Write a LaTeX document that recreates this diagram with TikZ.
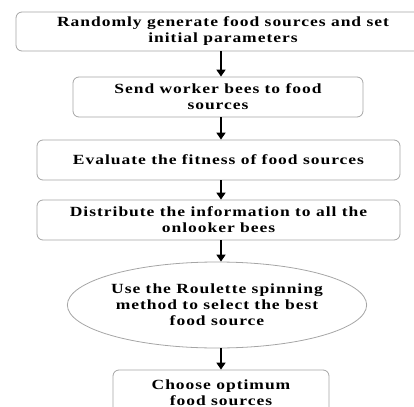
\documentclass[tikz,border=0pt]{standalone}
\usepackage{fontspec}
\setmainfont{Liberation Serif}[FakeStretch=1.25,LetterSpace=7]
\usetikzlibrary{shapes.geometric,arrows.meta}
\definecolor{edge}{RGB}{165,165,165}
\begin{document}
\begin{tikzpicture}[x=1pt,y=-1pt,
  box/.style={draw=edge,line width=0.8pt,rounded corners=6pt,align=center,
    font=\fontsize{14}{16}\selectfont\bfseries,inner sep=0pt},
  oval/.style={draw=edge,line width=0.8pt,ellipse,align=center,
    font=\fontsize{14}{16}\selectfont\bfseries,inner sep=0pt},
  arr/.style={line width=1.6pt,-{Triangle[length=7pt,width=9pt]}}]
\useasboundingbox (0,0) rectangle (414,406);
\begin{scope}
\clip (0,0) rectangle (414,406);
\node[box,minimum width=414pt,minimum height=39pt] (b1) at (223,31.5)
  {Randomly generate food sources and set\\initial parameters};
\node[box,minimum width=290pt,minimum height=40pt] (b2) at (218,97)
  {Send worker bees to food\\sources};
\node[box,minimum width=363pt,minimum height=40pt] (b3) at (218.5,160)
  {Evaluate the fitness of food sources};
\node[box,minimum width=363pt,minimum height=40pt] (b4) at (218.5,220)
  {Distribute the information to all the\\onlooker bees};
\node[oval,minimum width=290pt,minimum height=86pt] (e5) at (217,305)
  {Use the Roulette spinning\\method to select the best\\food source};
\node[box,minimum width=216pt,minimum height=46pt] (b6) at (221,393)
  {Choose optimum\\food sources};
\coordinate (ax) at (221,0);
\draw[arr] (b1.south -| ax) -- (b2.north -| ax);
\draw[arr] (b2.south -| ax) -- (b3.north -| ax);
\draw[arr] (b3.south -| ax) -- (b4.north -| ax);
\draw[arr] (b4.south -| ax) -- (e5.north -| ax);
\draw[arr] (e5.south -| ax) -- (b6.north -| ax);
\end{scope}
\end{tikzpicture}
\end{document}
